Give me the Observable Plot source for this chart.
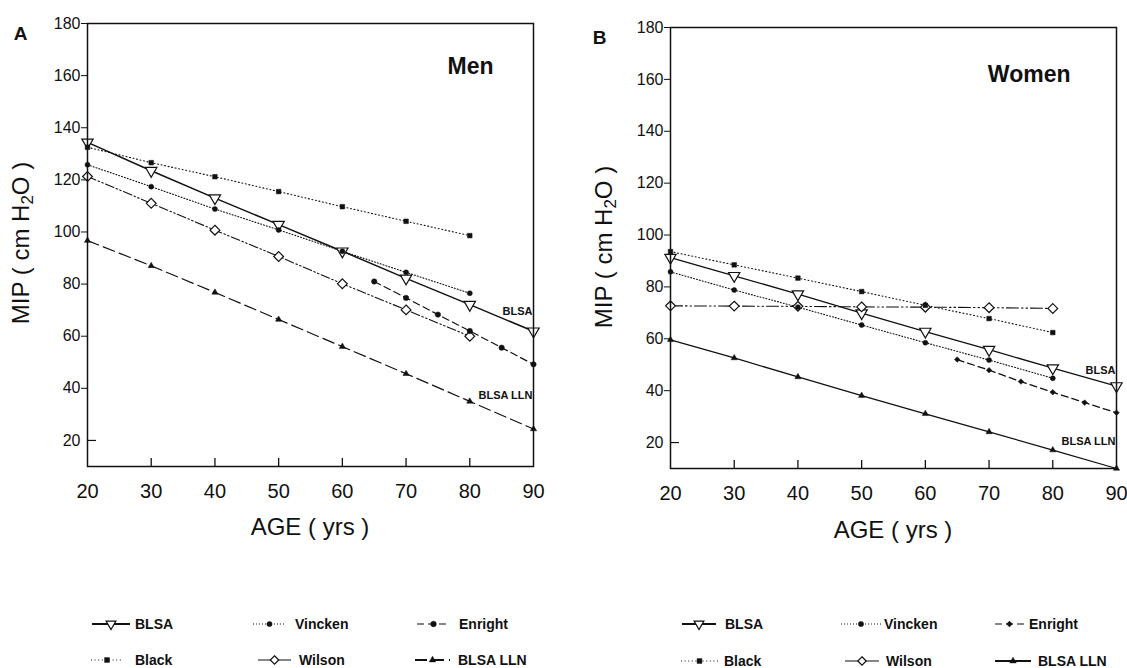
<!DOCTYPE html>
<html><head><meta charset="utf-8">
<script src="https://cdn.jsdelivr.net/npm/d3@7"></script>
<script src="https://cdn.jsdelivr.net/npm/@observablehq/plot@0.6"></script>
<style>
body{margin:0;background:#fff;}
#wrap{position:relative;width:1127px;height:668px;overflow:hidden;font-family:"Liberation Sans",Arial,sans-serif;color:#111;background:#fff;}
.panel{position:absolute;top:0;}
.ylab{position:absolute;font-size:24px;white-space:nowrap;transform:translate(-50%,-50%) rotate(-90deg);}
.xlab{position:absolute;font-size:24px;white-space:nowrap;transform:translate(-50%,-50%);}
.ylab sub{font-size:17px;vertical-align:-4px;}
#legend{position:absolute;left:0;top:0;}
</style></head><body><div id="wrap"></div>
<script>
// ---- data ----
const agesDecade = [20, 30, 40, 50, 60, 70, 80];
const agesBLSA = [20, 30, 40, 50, 60, 70, 80, 90];
const agesEnright = [65, 70, 75, 80, 85, 90];
const xTicks = [20, 30, 40, 50, 60, 70, 80, 90];
const yTicks = [20, 40, 60, 80, 100, 120, 140, 160, 180];
const seriesNames = ["BLSA", "Vincken", "Enright", "Black", "Wilson", "BLSA LLN"];

// Men (panel A)
const menBLSA = [134.4, 123.5, 113, 102.8, 92.6, 82.2, 72.1, 61.9];
const menBlack = [132.5, 126.6, 121.2, 115.5, 109.7, 104.1, 98.6];
const menVincken = [125.8, 117.4, 108.8, 100.8, 92.6, 84.5, 76.5];
const menWilson = [121.3, 111, 100.7, 90.6, 80.1, 70.1, 60];
const menEnright = [81, 74.7, 68.3, 62, 55.6, 49.2];
const menLLN = [96.7, 87, 76.8, 66.4, 56, 45.6, 35, 24.4];

// Women (panel B)
const womenBLSA = [91.3, 84.3, 77.2, 69.9, 62.8, 55.8, 48.7, 41.8];
const womenBlack = [93.6, 88.5, 83.4, 78.2, 72.9, 67.8, 62.4];
const womenVincken = [85.8, 78.8, 72.2, 65.3, 58.5, 51.8, 44.8];
const womenWilson = [72.7, 72.6, 72.5, 72.3, 72.2, 72, 71.7];
const womenEnright = [52, 47.9, 43.5, 39.4, 35.4, 31.5];
const womenLLN = [59.6, 52.6, 45.3, 38.1, 31.1, 24.1, 17.1, 10];

// in-plot line labels
const menLabels = [{x: 90, y: 69.5, text: "BLSA"}, {x: 90, y: 37.3, text: "BLSA LLN"}];
const womenLabels = [{x: 90, y: 47.7, text: "BLSA"}, {x: 90, y: 20.4, text: "BLSA LLN"}];

// ---- styles ----
const triDown = {draw(ctx, size) {
  const w = Math.sqrt(size * 4 / Math.sqrt(3)), h = w * Math.sqrt(3) / 2;
  ctx.moveTo(-w / 2, -h / 3); ctx.lineTo(w / 2, -h / 3); ctx.lineTo(0, 2 * h / 3); ctx.closePath();
}};
const INK = "#111";

const menStyles = {
  "BLSA": {dash: null, sw: 1.5, symbol: triDown, r: 4.2, fill: "white"},
  "Black": {dash: "1,2.6", sw: 1.1, symbol: "square", r: 2.6, fill: INK},
  "Vincken": {dash: "1,2", sw: 1.1, symbol: "circle", r: 2.5, fill: INK},
  "Wilson": {dash: "9,2.5,1.5,2.5,1.5,2.5", sw: 1.1, symbol: "diamond2", r: 4.4, fill: "white"},
  "Enright": {dash: "7,4", sw: 1.2, symbol: "circle", r: 2.7, fill: INK},
  "BLSA LLN": {dash: "12,5", sw: 1.2, symbol: "triangle", r: 2.3, fill: INK}
};
const womenStyles = {
  "BLSA": {dash: null, sw: 1.3, symbol: triDown, r: 4.2, fill: "white"},
  "Black": {dash: "1,2.6", sw: 1.1, symbol: "square", r: 2.6, fill: INK},
  "Vincken": {dash: "1,2", sw: 1.1, symbol: "circle", r: 2.5, fill: INK},
  "Wilson": {dash: "12,3,1.5,3,1.5,3", sw: 1.1, symbol: "diamond2", r: 4.4, fill: "white"},
  "Enright": {dash: "7,4", sw: 1.3, symbol: "diamond2", r: 2.5, fill: INK},
  "BLSA LLN": {dash: null, sw: 1.3, symbol: "triangle", r: 2.3, fill: INK}
};

function panel(cfg) {
  const innerW = cfg.width - cfg.ml - cfg.mr;
  const innerH = cfg.height - cfg.mt - cfg.mb;
  const marks = [];
  for (const s of cfg.series) {
    const st = cfg.styles[s.name];
    marks.push(Plot.line(d3.zip(s.x, s.y), {x: d => d[0], y: d => d[1], stroke: INK, strokeWidth: st.sw, strokeDasharray: st.dash}));
  }
  const order = ["BLSA", "Wilson", "Black", "Vincken", "Enright", "BLSA LLN"];
  for (const name of order) {
    const s = cfg.series.find(d => d.name === name);
    const st = cfg.styles[name];
    marks.push(Plot.dot(d3.zip(s.x, s.y), {x: d => d[0], y: d => d[1], symbol: st.symbol, r: st.r, fill: st.fill, stroke: INK, strokeWidth: st.fill === "white" ? 1.2 : 0.5}));
  }
  marks.push(
    Plot.frame({stroke: INK, strokeWidth: 1.5}),
    Plot.axisY(yTicks.slice(1), {tickSize: 6, tickPadding: 1, fontSize: 16, stroke: INK, label: null}),
    Plot.axisY(yTicks.slice(0, 1), {tickSize: 0, tickPadding: 7, fontSize: 16, label: null}),
    Plot.tickY(yTicks.slice(0, 1), {y: d => d, insetRight: innerW - 9, stroke: INK, strokeWidth: 1.2}),
    Plot.axisX(xTicks, {tickSize: 0, tickPadding: 17, fontSize: 20, label: null}),
    Plot.tickX(xTicks.slice(1, -1), {x: d => d, insetTop: innerH - 8, stroke: INK, strokeWidth: 1.3}),
    Plot.text(cfg.labels, {x: "x", y: "y", text: "text", textAnchor: "end", dx: -1, fontSize: 11, fontWeight: "bold", fill: INK}),
    Plot.text([cfg.title], {text: d => d, frameAnchor: "top-right", dx: cfg.titleDx, dy: cfg.titleDy, fontSize: 23, fontWeight: "bold", fill: INK}),
    Plot.text([cfg.letter], {text: d => d, frameAnchor: "top-left", dx: cfg.letterDx, dy: 3, textAnchor: "middle", fontSize: 19, fontWeight: "bold", fill: INK})
  );
  return Plot.plot({
    width: cfg.width, height: cfg.height,
    marginLeft: cfg.ml, marginRight: cfg.mr, marginTop: cfg.mt, marginBottom: cfg.mb,
    x: {domain: [20, 90], axis: null, label: null},
    y: {domain: [10, 180], axis: null, label: null},
    style: {fontFamily: "'Liberation Sans', Arial, sans-serif", color: INK, background: "white", overflow: "visible"},
    marks
  });
}

const wrap = document.getElementById("wrap");

const left = panel({
  width: 560, height: 550, ml: 87, mr: 27, mt: 23, mb: 84,
  styles: menStyles, labels: menLabels, title: "Men", titleDx: -40, titleDy: 34, letter: "A", letterDx: -67,
  series: [
    {name: "BLSA", x: agesBLSA, y: menBLSA},
    {name: "Black", x: agesDecade, y: menBlack},
    {name: "Vincken", x: agesDecade, y: menVincken},
    {name: "Wilson", x: agesDecade, y: menWilson},
    {name: "Enright", x: agesEnright, y: menEnright},
    {name: "BLSA LLN", x: agesBLSA, y: menLLN}
  ]
});
left.classList.add("panel"); left.style.left = "0px";
wrap.appendChild(left);

const right = panel({
  width: 567, height: 550, ml: 110, mr: 11, mt: 27, mb: 82,
  styles: womenStyles, labels: womenLabels, title: "Women", titleDx: -46, titleDy: 38, letter: "B", letterDx: -71,
  series: [
    {name: "BLSA", x: agesBLSA, y: womenBLSA},
    {name: "Black", x: agesDecade, y: womenBlack},
    {name: "Vincken", x: agesDecade, y: womenVincken},
    {name: "Wilson", x: agesDecade, y: womenWilson},
    {name: "Enright", x: agesEnright, y: womenEnright},
    {name: "BLSA LLN", x: agesBLSA, y: womenLLN}
  ]
});
right.classList.add("panel"); right.style.left = "560px";
wrap.appendChild(right);

function addLabel(cls, html, x, y) {
  const d = document.createElement("div");
  d.className = cls; d.innerHTML = html;
  d.style.left = x + "px"; d.style.top = y + "px";
  wrap.appendChild(d);
}
addLabel("ylab", "MIP ( cm H<sub>2</sub>O )", 22, 243);
addLabel("ylab", "MIP ( cm H<sub>2</sub>O )", 605, 247);
addLabel("xlab", "AGE ( yrs )", 310, 527);
addLabel("xlab", "AGE ( yrs )", 893, 530);

const legendLayout = [
  {styles: menStyles, rows: [624, 660], items: [
    {name: "BLSA", row: 0, x0: 92, x1: 130, tx: 135},
    {name: "Vincken", row: 0, x0: 253, x1: 286, tx: 295},
    {name: "Enright", row: 0, x0: 417, x1: 450, tx: 459},
    {name: "Black", row: 1, x0: 91, x1: 123, tx: 135},
    {name: "Wilson", row: 1, x0: 258, x1: 291, tx: 299},
    {name: "BLSA LLN", row: 1, x0: 415, x1: 450, tx: 458}
  ]},
  {styles: womenStyles, rows: [624, 661], items: [
    {name: "BLSA", row: 0, x0: 682, x1: 716, tx: 725},
    {name: "Vincken", row: 0, x0: 841, x1: 881, tx: 884},
    {name: "Enright", row: 0, x0: 995, x1: 1024, tx: 1029},
    {name: "Black", row: 1, x0: 681, x1: 718, tx: 724},
    {name: "Wilson", row: 1, x0: 845, x1: 879, tx: 886},
    {name: "BLSA LLN", row: 1, x0: 995, x1: 1031, tx: 1038}
  ]}
];
const symMap = {circle: d3.symbolCircle, square: d3.symbolSquare, triangle: d3.symbolTriangle, diamond2: d3.symbolDiamond2};
const svg = d3.select(wrap).append("svg").attr("id", "legend").attr("width", 1127).attr("height", 668);
for (const lg of legendLayout) {
  for (const it of lg.items) {
    const st = lg.styles[it.name];
    const y = lg.rows[it.row];
    const legendDash = it.name === "Wilson" ? null : st.dash;
    svg.append("line").attr("x1", it.x0).attr("x2", it.x1).attr("y1", y).attr("y2", y)
      .attr("stroke", INK).attr("stroke-width", it.name === "BLSA LLN" || it.name === "BLSA" ? 1.8 : 1.2)
      .attr("stroke-dasharray", legendDash);
    const type = typeof st.symbol === "string" ? symMap[st.symbol] : st.symbol;
    const size = st.r * st.r * Math.PI * (st.fill === "white" ? 0.75 : 1.1);
    svg.append("path").attr("d", d3.symbol(type, size)()).attr("transform", `translate(${(it.x0 + it.x1) / 2},${y})`)
      .attr("fill", st.fill).attr("stroke", INK).attr("stroke-width", st.fill === "white" ? 1.2 : 0.5);
    svg.append("text").attr("x", it.tx).attr("y", y).attr("dy", "0.35em")
      .attr("font-family", "'Liberation Sans', Arial, sans-serif").attr("font-weight", "bold").attr("font-size", 14)
      .attr("fill", INK).text(it.name);
  }
}
</script></body></html>
